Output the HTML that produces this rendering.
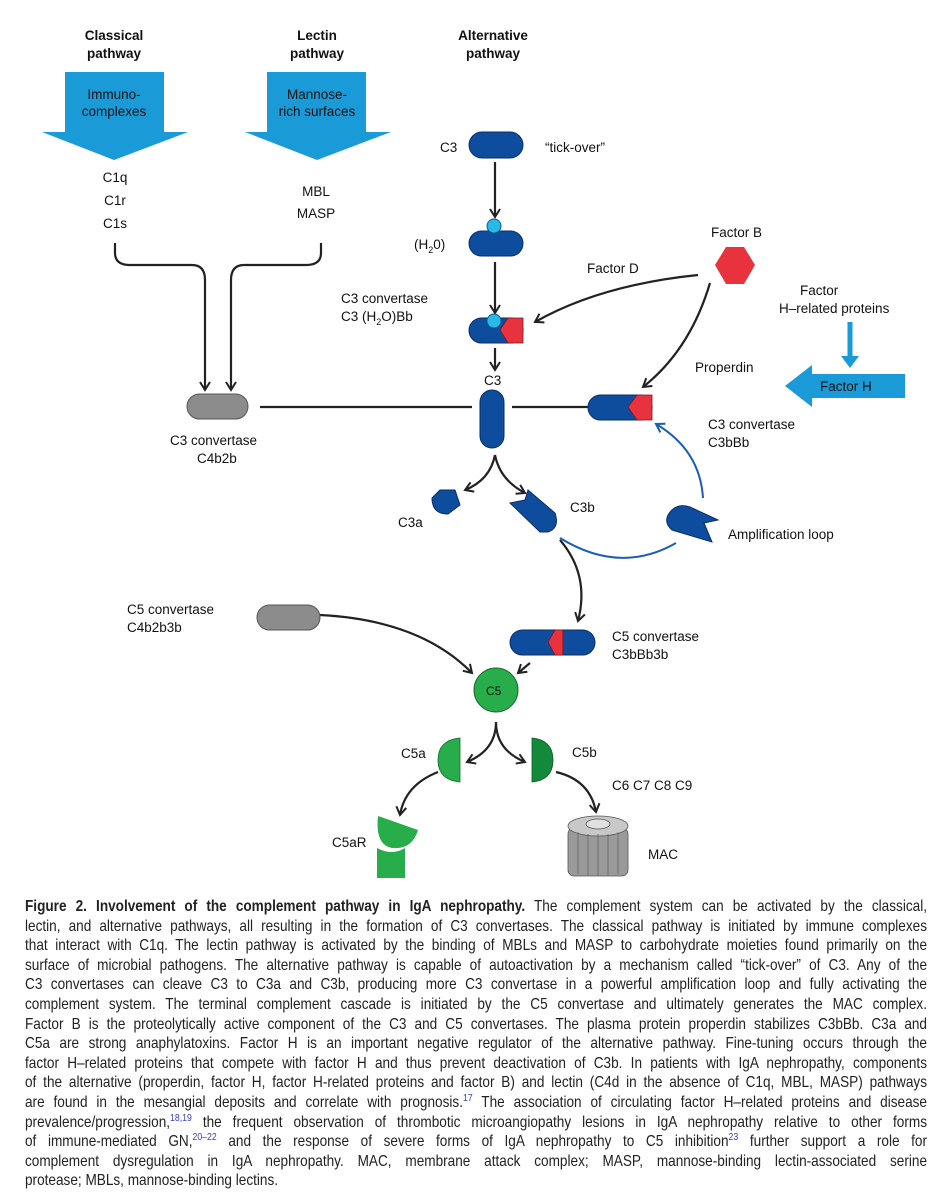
<!DOCTYPE html>
<html><head><meta charset="utf-8"><style>
body{margin:0;background:#fff;width:951px;height:1200px;overflow:hidden;position:relative}
svg{position:absolute;left:0;top:0}
.t{font-family:"Liberation Sans",sans-serif;font-size:13.5px;fill:#111}
.b{font-weight:bold}
#cap{position:absolute;left:25px;top:897px;width:1035px;transform:scaleX(0.8715);transform-origin:0 0;font-family:"Liberation Sans",sans-serif;font-size:15.6px;color:#222;line-height:19.6px}
#cap div{text-align:justify;text-align-last:justify;white-space:nowrap;height:19.6px}
#cap div.l{text-align-last:left}
sup{color:#3344bb;font-size:10px;line-height:0}
</style></head><body>
<svg width="951" height="890" viewBox="0 0 951 890">
<defs>
<marker id="a" markerWidth="12" markerHeight="12" refX="9" refY="6" orient="auto" markerUnits="userSpaceOnUse"><path d="M1,1 L9,6 L1,11" fill="none" stroke="#222" stroke-width="2"/></marker>
<marker id="ab" markerWidth="12" markerHeight="12" refX="9" refY="6" orient="auto" markerUnits="userSpaceOnUse"><path d="M1,1 L9,6 L1,11" fill="none" stroke="#1a5fb0" stroke-width="2"/></marker>
</defs>
<g class="t b" text-anchor="middle">
<text x="114" y="40">Classical</text><text x="114" y="58">pathway</text>
<text x="317" y="40">Lectin</text><text x="317" y="58">pathway</text>
<text x="493" y="40">Alternative</text><text x="493" y="58">pathway</text>
</g>
<path d="M65,72 H164 V132 H188 L114,160 L42,132 H65Z" fill="#1a9ad6"/>
<path d="M267,72 H366 V132 H391 L317,160 L245,132 H267Z" fill="#1a9ad6"/>
<g class="t" text-anchor="middle" fill="#111">
<text x="114" y="99">Immuno-</text><text x="114" y="116">complexes</text>
<text x="317" y="99">Mannose-</text><text x="317" y="116">rich surfaces</text>
<text x="115" y="182">C1q</text><text x="115" y="205">C1r</text><text x="115" y="228">C1s</text>
<text x="316" y="196">MBL</text><text x="316" y="218">MASP</text>
</g>
<g fill="none" stroke="#222" stroke-width="2.2">
<path d="M115,243 V253 Q115,265 130,265 H192 Q205,265 205,280 V390" marker-end="url(#a)"/>
<path d="M321,243 V253 Q321,265 306,265 H244 Q231,265 231,280 V390" marker-end="url(#a)"/>
<path d="M260,407 H472"/><path d="M512,407 H588"/>
<path d="M495,162 V217" marker-end="url(#a)"/>
<path d="M495,262 V313" marker-end="url(#a)"/>
<path d="M495,348 V370" marker-end="url(#a)"/>
<path d="M698,275 Q600,285 535,322" marker-end="url(#a)"/>
<path d="M710,283 Q690,350 643,387" marker-end="url(#a)"/>
<path d="M495,455 Q490,480 465,490" marker-end="url(#a)"/>
<path d="M495,455 Q500,480 525,493" marker-end="url(#a)"/>
<path d="M560,540 Q590,575 578,621" marker-end="url(#a)"/>
<path d="M320,615 Q420,620 472,673" marker-end="url(#a)"/>
<path d="M530,663 L518,673" marker-end="url(#a)"/>
<path d="M496,722 Q496,750 467,762" marker-end="url(#a)"/>
<path d="M496,722 Q496,750 525,762" marker-end="url(#a)"/>
<path d="M438,772 Q405,785 400,815" marker-end="url(#a)"/>
<path d="M556,772 Q590,780 596,812" marker-end="url(#a)"/>
</g>
<g fill="none" stroke="#1a5fb0" stroke-width="2">
<path d="M703,498 Q700,450 656,424" marker-end="url(#ab)"/>
<path d="M560,538 Q620,575 676,543"/>
</g>
<rect x="187" y="394" width="61" height="25" rx="12.5" fill="#8c8c8c" stroke="#555"/>
<rect x="257" y="605" width="63" height="25" rx="12.5" fill="#8c8c8c" stroke="#555"/>
<g fill="#0e4c9e" stroke="#0a2f66" stroke-width="1">
<rect x="469" y="132" width="54" height="26" rx="13"/>
<rect x="469" y="231" width="54" height="25" rx="12.5"/>
<rect x="469" y="318" width="54" height="25" rx="12.5"/>
<rect x="480" y="390" width="24" height="58" rx="12"/>
<rect x="588" y="395" width="64" height="25" rx="12.5"/>
<rect x="510" y="630" width="85" height="25" rx="12.5"/>
<path d="M432,498 L440,490 L455,490 L460,505 L448,514 Q432,514 432,498Z"/>
<path d="M510,503 L525,500 L528,490 L555,513 Q560,528 548,532 L540,532Z"/>
<path d="M668,515 Q676,502 690,507 L718,520 L704,523 L712,542 L672,530 Q664,523 668,515Z"/>
</g>
<g fill="#e8323e" stroke="#7a1a20" stroke-width="0.8">
<path d="M523,318 V343 H508 L500,330 L508,318Z"/>
<path d="M652,395 V420 H637 L628,407 L637,395Z"/>
<path d="M563,630 L563,655 H555 L548,642 L555,630Z"/>
<path d="M726,247 L744,247 L755,265 L744,284 L726,284 L715,265Z" stroke="none"/>
</g>
<line x1="563" y1="630" x2="563" y2="655" stroke="#7a1a20"/>
<circle cx="494" cy="226" r="7" fill="#2bb8e6" stroke="#0a5f88"/>
<circle cx="494" cy="321" r="7" fill="#2bb8e6" stroke="#0a5f88"/>
<path d="M850,322 V360" stroke="#1a9ad6" stroke-width="5"/>
<path d="M841,356 L859,356 L850,368Z" fill="#1a9ad6"/>
<path d="M905,374 V398 H812 V407 L785,386 L812,365 V374Z" fill="#1a9ad6"/>
<circle cx="496" cy="690" r="22" fill="#27ae4a" stroke="#156b2c"/>
<path d="M460,738 V782 Q438,780 438,760 Q438,740 460,738Z" fill="#27ae4a" stroke="#156b2c" stroke-width="0.8"/>
<path d="M532,738 V782 Q553,780 553,760 Q553,740 532,738Z" fill="#138a3a" stroke="#0d5a25" stroke-width="0.8"/>
<path d="M378,816 L418,830 Q412,850 392,848 Q375,845 378,816Z" fill="#27ae4a"/>
<path d="M377,848 Q392,856 405,848 V878 H377Z" fill="#27ae4a"/>
<g fill="#9a9a9a" stroke="#555" stroke-width="0.8">
<rect x="568" y="828" width="60" height="48" rx="6"/>
<ellipse cx="598" cy="826" rx="30" ry="10" fill="#c8c8c8"/>
<g stroke="#666"><line x1="578" y1="832" x2="578" y2="874"/><line x1="588" y1="834" x2="588" y2="876"/><line x1="598" y1="834" x2="598" y2="876"/><line x1="608" y1="834" x2="608" y2="876"/><line x1="618" y1="832" x2="618" y2="874"/></g>
<ellipse cx="598" cy="824" rx="12" ry="5" fill="#e0e0e0"/>
</g>
<g class="t">
<text x="440" y="152">C3</text><text x="545" y="152">“tick-over”</text>
<text x="414" y="249">(H<tspan font-size="9" dy="4">2</tspan><tspan dy="-4">0)</tspan></text>
<text x="341" y="303">C3 convertase</text><text x="341" y="321">C3 (H<tspan font-size="9" dy="4">2</tspan><tspan dy="-4">O)Bb</tspan></text>
<text x="484" y="385">C3</text>
<text x="587" y="273">Factor D</text>
<text x="711" y="237">Factor B</text>
<text x="800" y="295">Factor</text><text x="779" y="313">H–related proteins</text>
<text x="820" y="391">Factor H</text>
<text x="695" y="372">Properdin</text>
<text x="708" y="429">C3 convertase</text><text x="708" y="447">C3bBb</text>
<text x="170" y="445">C3 convertase</text><text x="197" y="463">C4b2b</text>
<text x="398" y="527">C3a</text><text x="570" y="512">C3b</text>
<text x="728" y="539">Amplification loop</text>
<text x="127" y="614">C5 convertase</text><text x="127" y="632">C4b2b3b</text>
<text x="612" y="641">C5 convertase</text><text x="612" y="659">C3bBb3b</text>
<text x="486" y="695" font-size="12">C5</text>
<text x="401" y="758">C5a</text><text x="572" y="757">C5b</text>
<text x="612" y="790">C6 C7 C8 C9</text>
<text x="332" y="847">C5aR</text><text x="648" y="859">MAC</text>
</g>
</svg>
<div id="cap">
<div><b>Figure 2. Involvement of the complement pathway in IgA nephropathy.</b> The complement system can be activated by the classical,</div>
<div>lectin, and alternative pathways, all resulting in the formation of C3 convertases. The classical pathway is initiated by immune complexes</div>
<div>that interact with C1q. The lectin pathway is activated by the binding of MBLs and MASP to carbohydrate moieties found primarily on the</div>
<div>surface of microbial pathogens. The alternative pathway is capable of autoactivation by a mechanism called “tick-over” of C3. Any of the</div>
<div>C3 convertases can cleave C3 to C3a and C3b, producing more C3 convertase in a powerful amplification loop and fully activating the</div>
<div>complement system. The terminal complement cascade is initiated by the C5 convertase and ultimately generates the MAC complex.</div>
<div>Factor B is the proteolytically active component of the C3 and C5 convertases. The plasma protein properdin stabilizes C3bBb. C3a and</div>
<div>C5a are strong anaphylatoxins. Factor H is an important negative regulator of the alternative pathway. Fine-tuning occurs through the</div>
<div>factor H–related proteins that compete with factor H and thus prevent deactivation of C3b. In patients with IgA nephropathy, components</div>
<div>of the alternative (properdin, factor H, factor H-related proteins and factor B) and lectin (C4d in the absence of C1q, MBL, MASP) pathways</div>
<div>are found in the mesangial deposits and correlate with prognosis.<sup>17</sup> The association of circulating factor H–related proteins and disease</div>
<div>prevalence/progression,<sup>18,19</sup> the frequent observation of thrombotic microangiopathy lesions in IgA nephropathy relative to other forms</div>
<div>of immune-mediated GN,<sup>20–22</sup> and the response of severe forms of IgA nephropathy to C5 inhibition<sup>23</sup> further support a role for</div>
<div>complement dysregulation in IgA nephropathy. MAC, membrane attack complex; MASP, mannose-binding lectin-associated serine</div>
<div class="l">protease; MBLs, mannose-binding lectins.</div>
</div>
</body></html>
